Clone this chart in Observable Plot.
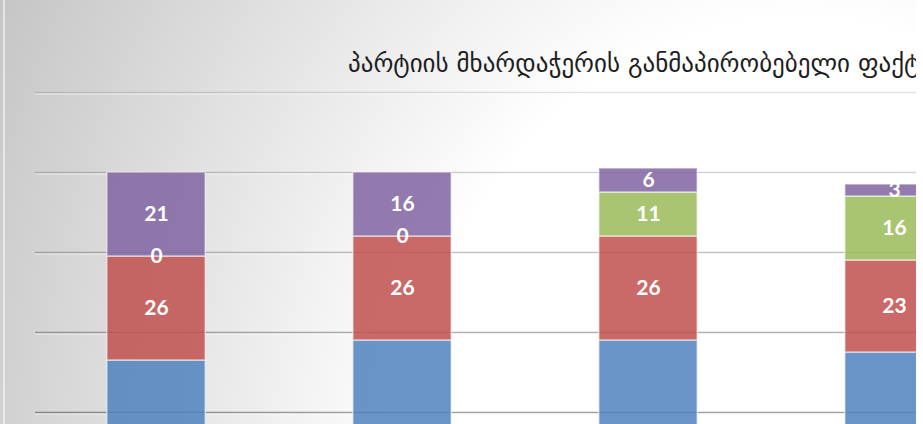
<!DOCTYPE html>
<html>
<head>
<meta charset="utf-8">
<script src="https://cdn.jsdelivr.net/npm/d3@7"></script>
<script src="https://cdn.jsdelivr.net/npm/@observablehq/plot@0.6"></script>
<style>
  html, body { margin: 0; padding: 0; background: #ffffff; overflow: hidden; }
  #chart {
    position: relative; width: 916px; height: 424px; overflow: hidden;
    background: radial-gradient(ellipse 1000px 1200px at 800px 500px, #ffffff 40%, #c0c0c0 95%);
  }
  #edge { position: absolute; left: 3px; top: 0; width: 1.5px; height: 424px; background: rgba(255,255,255,0.55); }
  #title {
    position: absolute; left: 348px; top: 49px; white-space: nowrap;
    font-family: "DejaVu Sans", sans-serif; font-size: 25px; color: #1e1e1e;
  }
  #plot { position: absolute; left: 0; top: 0; width: 1015px; }
  #plot svg { max-width: none !important; }
</style>
</head>
<body>
<div id="chart">
  <div id="edge"></div>
  <div id="plot"></div>
  <div id="title">პარტიის მხარდაჭერის განმაპირობებელი ფაქტორები</div>
</div>
<script>
// Categories (x-axis labels are outside the visible crop)
const categories = ["I", "II", "III", "IV"];
// Series, bottom to top
const seriesNames = ["სერია 1", "სერია 2", "სერია 3", "სერია 4"];
const series1 = [53, 58, 58, 55]; // blue (its labels fall below the visible crop)
const series2 = [26, 26, 26, 23]; // red
const series3 = [0, 0, 11, 16];   // green
const series4 = [21, 16, 6, 3];   // purple
const yTicks = [0, 20, 40, 60, 80, 100, 120];
const colors = ["#4F81BD", "#C0504D", "#9BBB59", "#8064A2"];

const allSeries = [series1, series2, series3, series4];
const data = [];
allSeries.forEach((vals, si) => {
  vals.forEach((v, ci) => data.push({cat: categories[ci], series: seriesNames[si], value: v}));
});

const plot = Plot.plot({
  width: 1015,
  height: 582,
  marginLeft: 35,
  marginRight: 0,
  marginTop: 92,
  marginBottom: 10,
  x: {domain: categories, paddingInner: 0.6, paddingOuter: 0.292, round: false, axis: null},
  y: {domain: [0, 120], axis: null},
  color: {domain: seriesNames, range: colors},
  style: {background: "transparent", overflow: "visible", maxWidth: "none"},
  marks: [
    Plot.ruleY(yTicks, {stroke: "#000", strokeWidth: 1.5, strokeOpacity: d => 0.5 - d * 0.0032}),
    Plot.ruleY(yTicks, {stroke: "#fff", strokeWidth: 1, strokeOpacity: 0.6, dy: 1.5}),
    Plot.barY(data, Plot.stackY({
      x: "cat", y: "value", fill: "series", order: seriesNames,
      fillOpacity: 0.85, stroke: "#ffffff", strokeOpacity: 0.55, strokeWidth: 1.5
    })),
    Plot.text(data, Plot.stackY({
      x: "cat", y: "value", z: "series", order: seriesNames,
      text: d => d.series === seriesNames[0] ? null : String(d.value),
      fill: "#ffffff", fontFamily: "Lato, sans-serif", fontWeight: "bold", fontSize: 21
    }))
  ]
});
document.getElementById("plot").appendChild(plot);
</script>
</body>
</html>
